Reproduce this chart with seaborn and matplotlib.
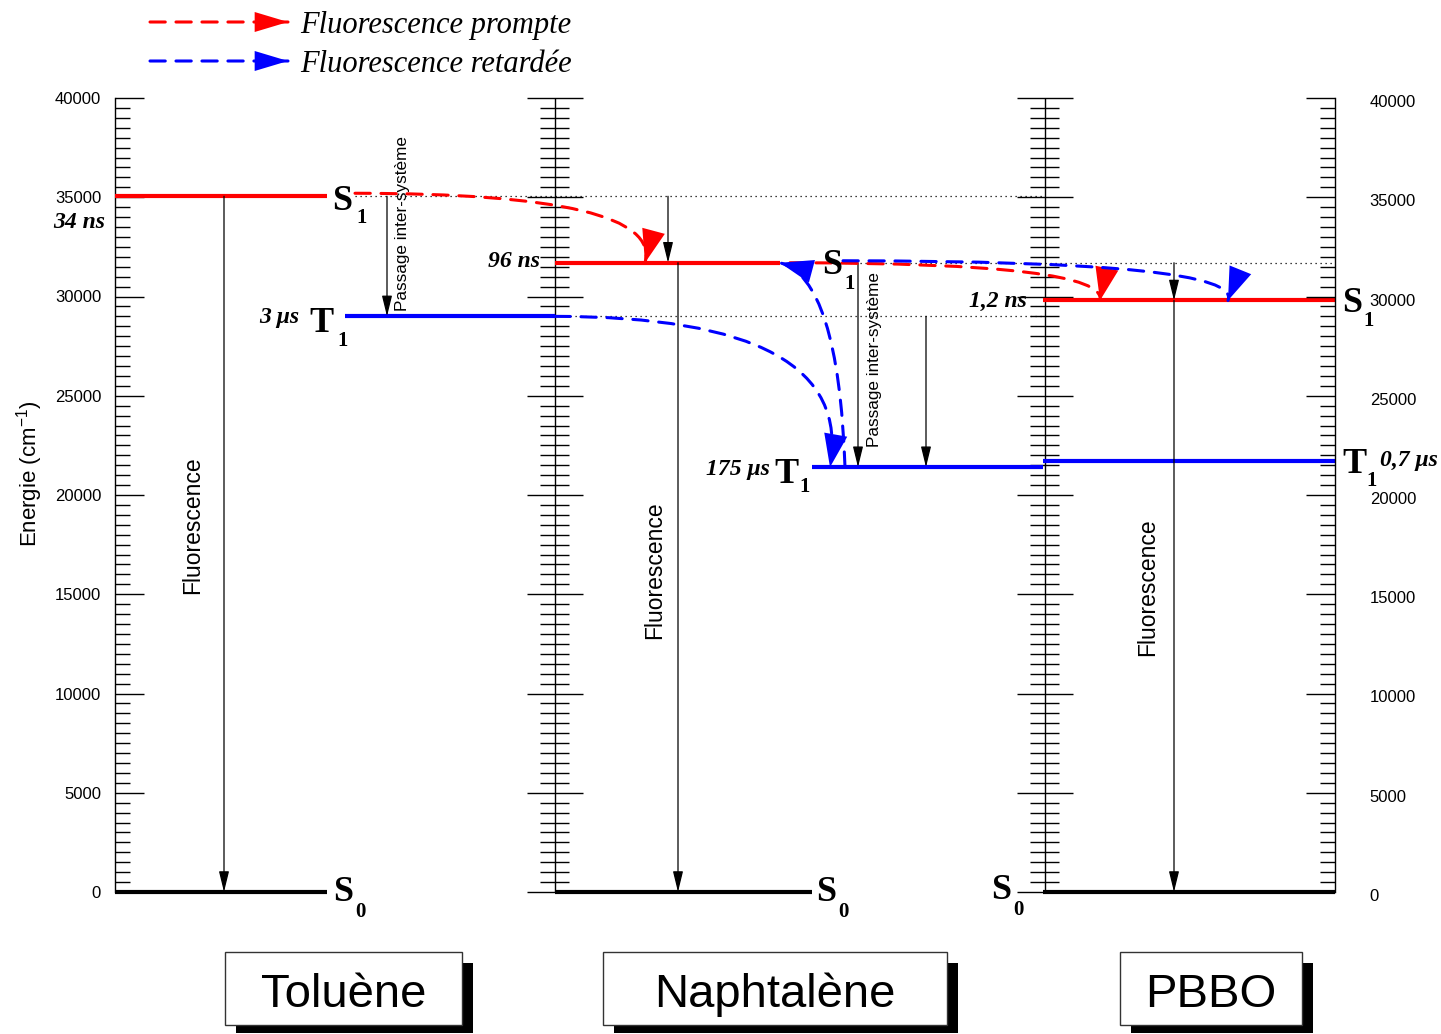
import numpy as np
import pandas as pd
import matplotlib
matplotlib.use("Agg")
import matplotlib.pyplot as plt
import matplotlib.transforms as mtrans
from matplotlib.patches import Rectangle
from matplotlib.ticker import MultipleLocator
import seaborn as sns

# ---------------- data ----------------
molecules = ["Toluène", "Naphtalène", "PBBO"]
E_S1 = [35050, 31700, 29800]          # singlet S1 energies (cm-1)
E_T1 = [29000, 21400, 21700]          # triplet T1 energies (cm-1)
E_S0 = [0, 0, 0]                      # ground state
tau_S1 = ["34 ns", "96 ns", "1,2 ns"]
tau_T1 = ["3 μs", "175 μs", "0,7 μs"]
y_ticks = [0, 5000, 10000, 15000, 20000, 25000, 30000, 35000, 40000]
y_tick_labels = [str(v) for v in y_ticks]
legend_labels = ["Fluorescence prompte", "Fluorescence retardée"]
proc_fluo = "Fluorescence"
proc_isc = "Passage inter-système"
y_label = "Energie (cm$^{-1}$)"

# ---------------- layout (pixels) ----------------
W, H = 1441, 1034
Y0, Y40 = 892, 98
PXE = 40000 / (Y0 - Y40)            # energy per pixel


def ey(px):
    return (Y0 - px) * PXE


S1_x = [(115, 327), (555, 780), (1043, 1335)]
T1_x = [(345, 555), (812, 1043), (1043, 1335)]
S0_x = [(115, 327), (555, 812), (1043, 1335)]

sns.set_theme(style="white", rc={"axes.edgecolor": "black", "text.color": "black",
                                 "ytick.color": "black", "axes.labelcolor": "black"})
plt.rcParams["font.family"] = ["Liberation Sans", "DejaVu Sans"]
plt.rcParams["mathtext.default"] = "regular"

fig = plt.figure(figsize=(W / 100, H / 100), dpi=100)
ax = fig.add_axes([115 / W, (H - Y0) / H, (1335 - 115) / W, (Y0 - Y40) / H])
ax.patch.set_alpha(0)

# ---------------- energy levels via seaborn ----------------
rows = []
for i, m in enumerate(molecules):
    for kind, E, seg in (("S1", E_S1[i], S1_x[i]), ("T1", E_T1[i], T1_x[i]), ("S0", E_S0[i], S0_x[i])):
        rows.append(dict(x=seg[0], E=E, kind=kind, unit=f"{m}-{kind}"))
        rows.append(dict(x=seg[1], E=E, kind=kind, unit=f"{m}-{kind}"))
df = pd.DataFrame(rows)
sns.lineplot(data=df, x="x", y="E", hue="kind", units="unit", estimator=None, sort=False,
             palette={"S1": "#ff0000", "T1": "#0000ff", "S0": "#000000"},
             linewidth=3, legend=False, ax=ax, zorder=4)
for ln in ax.lines:
    ln.set_clip_on(False)
    ln.set_solid_capstyle("butt")
ax.set_xlabel("")
ax.set_ylabel("")
ax.set_xlim(115, 1335)
ax.set_ylim(0, 40000)

# ---------------- outer scales (real axes) ----------------
for s in ("top", "bottom", "right"):
    ax.spines[s].set_visible(False)
ax.spines["left"].set_linewidth(1.0)
ax.set_yticks(y_ticks, y_tick_labels)
ax.yaxis.set_minor_locator(MultipleLocator(500))
ax.tick_params(axis="x", bottom=False, labelbottom=False)
ax.tick_params(axis="y", which="major", direction="in", length=21, width=1.0,
               left=True, right=False, labelsize=12, pad=10)
ax.tick_params(axis="y", which="minor", direction="in", length=10.5, width=1.0,
               left=True, right=False)

ax2 = ax.twinx()
ax2.set_ylim(0, 40000)
for s in ("top", "bottom", "left"):
    ax2.spines[s].set_visible(False)
ax2.spines["right"].set_linewidth(1.0)
ax2.set_yticks(y_ticks, y_tick_labels)
ax2.yaxis.set_minor_locator(MultipleLocator(500))
ax2.tick_params(axis="y", which="major", direction="in", length=21, width=1.0,
                right=True, left=False, labelsize=12, pad=25)
ax2.tick_params(axis="y", which="minor", direction="in", length=10.5, width=1.0,
                right=True, left=False)
ax2.grid(False)
_off = mtrans.ScaledTranslation(0, -3 / 100, fig.dpi_scale_trans)
for t in ax2.yaxis.get_major_ticks():
    t.label2.set_transform(t.label2.get_transform() + _off)

# ---------------- inner scales ----------------
major = np.arange(0, 40001, 5000)
minor = np.array([v for v in np.arange(0, 40001, 500) if v % 5000])
for xc in (555, 1045):
    ax.vlines(xc, 0, 40000, color="black", lw=1.0, zorder=2, clip_on=False)
    ax.hlines(major, xc - 28, xc + 28, color="black", lw=1.0, zorder=2, clip_on=False)
    ax.hlines(minor, xc - 14.5, xc + 14.5, color="black", lw=1.0, zorder=2, clip_on=False)

# ---------------- dotted guide lines ----------------
dot = (0, (1, 3))
ax.hlines(E_S1[0], 355, 1045, color="black", lw=0.9, linestyles=[dot], zorder=3)
ax.hlines(E_T1[0], 555, 1045, color="black", lw=0.9, linestyles=[dot], zorder=3)
ax.hlines(E_S1[1], 840, 1335, color="black", lw=0.9, linestyles=[dot], zorder=3)


# ---------------- thin vertical transition arrows ----------------
def varrow(x, e_from, e_to):
    ax.annotate("", xy=(x, e_to), xytext=(x, e_from),
                arrowprops=dict(arrowstyle="-|>,head_length=0.9,head_width=0.22",
                                mutation_scale=14, lw=0.9, color="black",
                                shrinkA=0, shrinkB=0), zorder=5)


varrow(224, E_S1[0], E_S0[0])
varrow(387, E_S1[0], E_T1[0])
varrow(668, E_S1[0], E_S1[1])
varrow(678, E_S1[1], E_S0[1])
varrow(858, E_S1[1], E_T1[1])
varrow(926, E_T1[0], E_T1[1])
varrow(1174, E_S1[1], E_S1[2])
varrow(1174, E_S1[2], E_S0[2])

ax.text(193, ey(525), proc_fluo, rotation=90, ha="center", va="center", fontsize=16.5)
ax.text(655, ey(570), proc_fluo, rotation=90, ha="center", va="center", fontsize=16.5)
ax.text(1148, ey(587), proc_fluo, rotation=90, ha="center", va="center", fontsize=16.5)
ax.text(403, ey(311), proc_isc, rotation=90, ha="center", va="bottom", fontsize=12.3)
ax.text(875, ey(447), proc_isc, rotation=90, ha="center", va="bottom", fontsize=12.3)

# ---------------- curved dashed arrows ----------------
DASH = (0, (5, 3.5))


def dashed_arrow(start, end, color, conn, head, mscale, clip=True):
    # dashed body
    ax.annotate("", xy=end, xytext=start, annotation_clip=False,
                arrowprops=dict(arrowstyle="-", lw=2.2, linestyle=DASH, color=color,
                                shrinkA=0, shrinkB=0, connectionstyle=conn, clip_on=clip),
                zorder=6)
    # solid filled head
    ax.annotate("", xy=end, xytext=start, annotation_clip=False,
                arrowprops=dict(arrowstyle=head, mutation_scale=mscale, lw=0.0,
                                color=color, shrinkA=0, shrinkB=0,
                                connectionstyle=conn, clip_on=clip),
                zorder=6)


def carrow(start, end, color, angA, angB):
    dashed_arrow(start, end, color, f"angle3,angleA={angA},angleB={angB}",
                 "-|>,head_length=1.7,head_width=0.6", 14)


RED, BLUE = "#ff0000", "#0000ff"
carrow((355, E_S1[0] + 3 * PXE), (645, E_S1[1]), RED, 0, 75)
carrow((790, E_S1[1]), (1100, E_S1[2]), RED, 0, 78)
carrow((555, E_T1[0]), (830, E_T1[1]), BLUE, 0, 80)
carrow((845, E_T1[1]), (780, E_S1[1]), BLUE, 92, -15)
carrow((843, E_S1[1] + 2 * PXE), (1228, E_S1[2]), BLUE, 0, 68)

# ---------------- level labels ----------------
serif = "Liberation Serif"


def state(x, e, letter, sub, dy=13, sx=22, sdy=26):
    ax.text(x, e - dy * PXE, letter, fontfamily=serif, fontweight="bold", fontsize=26,
            ha="left", va="baseline", zorder=7)
    ax.text(x + sx, e - sdy * PXE, sub, fontfamily=serif, fontweight="bold", fontsize=15,
            ha="left", va="baseline", zorder=7)


def tau(x, e, txt, ha, dy):
    ax.text(x, e - dy * PXE, txt, fontfamily=serif, fontweight="bold", style="italic",
            fontsize=17, ha=ha, va="baseline", zorder=7)


# Toluène
state(332, E_S1[0], "S", "1", dy=14, sx=24, sdy=27)
state(309, E_T1[0], "T", "1", dy=16, sx=28, sdy=30)
state(333, E_S0[0], "S", "0", dy=9, sx=22, sdy=25)
tau(53, E_S1[0], tau_S1[0], "left", 32)
tau(299, E_T1[0], tau_T1[0], "right", 7)
# Naphtalène
state(822, E_S1[1], "S", "1", dy=11, sx=22, sdy=26)
state(774, E_T1[1], "T", "1", dy=16, sx=25, sdy=25)
state(816, E_S0[1], "S", "0", dy=9, sx=22, sdy=25)
tau(540, E_S1[1], tau_S1[1], "right", 4)
tau(770, E_T1[1], tau_T1[1], "right", 8)
# PBBO
state(1342, E_S1[2], "S", "1", dy=12, sx=21, sdy=26)
state(1342, E_T1[2], "T", "1", dy=12, sx=24, sdy=25)
state(991, E_S0[2], "S", "0", dy=7, sx=22, sdy=23)
tau(1027, E_S1[2], tau_S1[2], "right", 6)
tau(1380, E_T1[2], tau_T1[2], "left", 5)

# ---------------- legend ----------------
for i, (lab, col) in enumerate(zip(legend_labels, (RED, BLUE))):
    yy = ey(22 + 39 * i)
    dashed_arrow((150, yy), (288, yy), col, "arc3,rad=0",
                 "-|>,head_length=1.6,head_width=0.48", 15, clip=False)
    ax.text(300, ey(25 + 39 * i), lab, fontfamily=serif, style="italic", fontsize=22,
            ha="left", va="center")

# ---------------- molecule boxes ----------------
boxes_x = [(225, 462), (603, 947), (1120, 1302)]
for (x0, x1), name in zip(boxes_x, molecules):
    w = x1 - x0
    ax.add_patch(Rectangle((x0 + 11, ey(1033)), w, ey(963) - ey(1033), facecolor="black",
                           edgecolor="none", clip_on=False, zorder=1))
    ax.add_patch(Rectangle((x0, ey(1025)), w, ey(952) - ey(1025), facecolor="white",
                           edgecolor="#333333", lw=1.0, clip_on=False, zorder=2))
    ax.text((x0 + x1) / 2, ey(1007), name, fontsize=34, ha="center", va="baseline", zorder=3)

fig.text(30 / W, 1 - 474 / H, y_label, rotation=90, ha="center", va="center", fontsize=16)

fig.savefig("out.png", dpi=100)
